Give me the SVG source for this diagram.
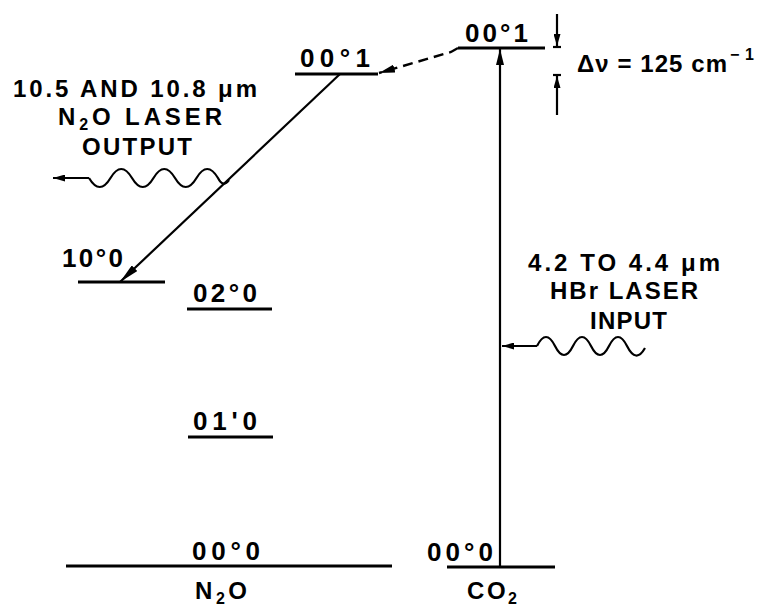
<svg xmlns="http://www.w3.org/2000/svg" width="763" height="611" viewBox="0 0 763 611">
<style>
.t{font-family:"Liberation Sans",Arial,sans-serif;font-weight:bold;font-size:24px;fill:#000}
.l{font-size:26px}
.s{font-size:16px}
.lv{stroke:#000;stroke-width:3;fill:none}
.c{stroke:#000;stroke-width:2.2;fill:none}
.d{stroke:#000;stroke-width:2.4;fill:none;stroke-dasharray:10 6}
</style>
<defs>
<marker id="ah" viewBox="0 0 16 8" refX="16" refY="4" markerWidth="16" markerHeight="8" markerUnits="userSpaceOnUse" orient="auto"><path d="M0,0 L16,4 L0,8 z" fill="#000"/></marker>
<marker id="ahl" viewBox="0 0 20 8" refX="20" refY="4" markerWidth="20" markerHeight="8" markerUnits="userSpaceOnUse" orient="auto"><path d="M0,0 L20,4 L0,8 z" fill="#000"/></marker>
<marker id="ahs" viewBox="0 0 12 7" refX="12" refY="3.5" markerWidth="12" markerHeight="7" markerUnits="userSpaceOnUse" orient="auto"><path d="M0,0 L12,3.5 L0,7 z" fill="#000"/></marker>
</defs>
<rect width="763" height="611" fill="#fff"/>

<g id="n2o-001">
<line class="lv" x1="295" y1="74" x2="378" y2="74"/>
<text class="t l" x="300" y="67" textLength="70" lengthAdjust="spacing">00°1</text>
</g>
<g id="co2-001">
<line class="lv" x1="458" y1="48" x2="545" y2="48"/>
<text class="t l" x="465" y="42" textLength="63" lengthAdjust="spacing">00°1</text>
</g>
<g id="n2o-100">
<line class="lv" x1="78" y1="282" x2="165" y2="282"/>
<text class="t l" x="62" y="267" textLength="61" lengthAdjust="spacing">10°0</text>
</g>
<g id="n2o-020">
<line class="lv" x1="187" y1="309" x2="272" y2="309"/>
<text class="t l" x="193" y="302" textLength="64" lengthAdjust="spacing">02°0</text>
</g>
<g id="n2o-010">
<line class="lv" x1="188" y1="437" x2="273" y2="437"/>
<text class="t l" x="193" y="430" textLength="64" lengthAdjust="spacing">01'0</text>
</g>
<g id="n2o-000">
<line class="lv" x1="66" y1="566" x2="392" y2="566"/>
<text class="t l" x="192" y="560" textLength="68" lengthAdjust="spacing">00°0</text>
<text class="t" x="195" y="599" textLength="52" lengthAdjust="spacing">N<tspan class="s" dy="5">2</tspan><tspan dy="-5">O</tspan></text>
</g>
<g id="co2-000">
<line class="lv" x1="447" y1="567" x2="555" y2="567"/>
<text class="t l" x="427" y="561" textLength="66" lengthAdjust="spacing">00°0</text>
<text class="t" x="467" y="599" textLength="50" lengthAdjust="spacing">CO<tspan class="s" dy="5">2</tspan></text>
</g>
<g id="output-label">
<text class="t" x="13" y="97" textLength="244" lengthAdjust="spacing">10.5 AND 10.8 μm</text>
<text class="t" x="58" y="125" textLength="164" lengthAdjust="spacing">N<tspan class="s" dy="5">2</tspan><tspan dy="-5">O LASER</tspan></text>
<text class="t" x="82" y="155" textLength="110" lengthAdjust="spacing">OUTPUT</text>
</g>
<g id="input-label">
<text class="t" x="528" y="271" textLength="192" lengthAdjust="spacing">4.2 TO 4.4 μm</text>
<text class="t" x="550" y="299" textLength="148" lengthAdjust="spacing">HBr LASER</text>
<text class="t" x="590" y="329" textLength="77" lengthAdjust="spacing">INPUT</text>
</g>
<g id="delta-label">
<text class="t" x="577" y="72" textLength="150" lengthAdjust="spacing">Δν = 125 cm</text>
<text class="t s" x="730" y="60" textLength="24" lengthAdjust="spacing">−1</text>
</g>

<g id="connectors">
<line class="c" x1="340" y1="74" x2="120" y2="282" marker-end="url(#ahl)"/>
<line class="c" x1="500" y1="567" x2="500" y2="49" marker-end="url(#ah)"/>
<path class="d" d="M458,48 L451,52 L379,73" marker-end="url(#ah)"/>
<line class="c" x1="557" y1="14" x2="557" y2="46" marker-end="url(#ahs)"/>
<line class="c" x1="553" y1="47" x2="561" y2="47"/>
<line class="c" x1="557" y1="115" x2="557" y2="76" marker-end="url(#ahs)"/>
<line class="c" x1="553" y1="75" x2="561" y2="75"/>
<line class="c" x1="89" y1="178" x2="53" y2="178" marker-end="url(#ahs)"/>
<path class="c" d="M89,178 Q99.75,196 110.5,178 Q121.25,160 132,178 Q142.75,196 153.5,178 Q164.25,160 175,178 Q185.75,196 196.5,178 Q207.25,160 218,178 Q223,188 229,180"/>
<line class="c" x1="537" y1="346" x2="502" y2="346" marker-end="url(#ahs)"/>
<path class="c" d="M537,346 Q546,328 555,346 Q564,364 573,346 Q582,328 591,346 Q600,364 609,346 Q618,328 627,346 Q636,364 645,348"/>
</g>
</svg>
